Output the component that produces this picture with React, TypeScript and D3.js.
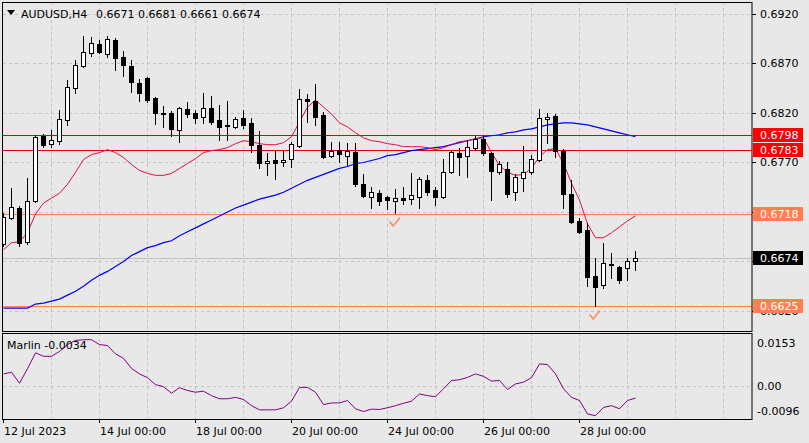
import * as d3 from 'd3';

// H4 bars, oldest first (12 Jul 2023 00:00 .. 31 Jul 04:00)
const opens = [
  0.6688, 0.6714, 0.6724, 0.6690, 0.6731, 0.6797, 0.6789, 0.6792, 0.6813, 0.6845,
  0.6867, 0.6881, 0.6890, 0.6880, 0.6894, 0.6877, 0.6867, 0.6850, 0.6855, 0.6835,
  0.6820, 0.6820, 0.6803, 0.6824, 0.6820, 0.6816, 0.6825, 0.6813, 0.6808, 0.6806,
  0.6815, 0.6810, 0.6788, 0.6769, 0.6773, 0.6770, 0.6774, 0.6787, 0.6834, 0.6832,
  0.6818, 0.6777, 0.6783, 0.6777, 0.6781, 0.6748, 0.6735, 0.6739, 0.6735, 0.6731,
  0.6734, 0.6733, 0.6735, 0.6752, 0.6742, 0.6735, 0.6760, 0.6780, 0.6777, 0.6785,
  0.6794, 0.6780, 0.6760, 0.6763, 0.6740, 0.6754, 0.6760, 0.6773, 0.6814, 0.6817,
  0.6782, 0.6738, 0.6711, 0.6702, 0.6655, 0.6646, 0.6667, 0.6664, 0.6663, 0.6671,
];
const highs = [
  0.6719, 0.6744, 0.6726, 0.6754, 0.6798, 0.6799, 0.6803, 0.6823, 0.6853, 0.6874,
  0.6898, 0.6897, 0.6894, 0.6898, 0.6896, 0.6883, 0.6874, 0.6854, 0.6856, 0.6836,
  0.6827, 0.6822, 0.6826, 0.6831, 0.6823, 0.6840, 0.6837, 0.6828, 0.6832, 0.6816,
  0.6823, 0.6815, 0.6802, 0.6780, 0.6782, 0.6782, 0.6791, 0.6844, 0.6839, 0.6849,
  0.6821, 0.6791, 0.6791, 0.6790, 0.6790, 0.6758, 0.6745, 0.6742, 0.6736, 0.6743,
  0.6745, 0.6759, 0.6755, 0.6757, 0.6745, 0.6774, 0.6782, 0.6785, 0.6793, 0.6797,
  0.6797, 0.6781, 0.6772, 0.6770, 0.6758, 0.6787, 0.6778, 0.6824, 0.6820, 0.6819,
  0.6784, 0.6752, 0.6714, 0.6709, 0.6674, 0.6689, 0.6679, 0.6665, 0.6674, 0.6681,
];
const lows = [
  0.6686, 0.6713, 0.6686, 0.6688, 0.6730, 0.6786, 0.6786, 0.6789, 0.6808, 0.6840,
  0.6866, 0.6878, 0.6881, 0.6877, 0.6863, 0.6857, 0.6841, 0.6832, 0.6831, 0.6809,
  0.6806, 0.6797, 0.6791, 0.6816, 0.6810, 0.6810, 0.6809, 0.6793, 0.6793, 0.6805,
  0.6805, 0.6781, 0.6764, 0.6757, 0.6753, 0.6766, 0.6765, 0.6786, 0.6811, 0.6808,
  0.6775, 0.6776, 0.6770, 0.6767, 0.6746, 0.6735, 0.6724, 0.6727, 0.6723, 0.6719,
  0.6728, 0.6728, 0.6724, 0.6737, 0.6727, 0.6734, 0.6759, 0.6757, 0.6755, 0.6783,
  0.6778, 0.6732, 0.6758, 0.6735, 0.6732, 0.6741, 0.6758, 0.6772, 0.6790, 0.6776,
  0.6724, 0.6709, 0.6699, 0.6645, 0.6625, 0.6643, 0.6653, 0.6648, 0.6651, 0.6661,
];
const closes = [
  0.6715, 0.6725, 0.6689, 0.6731, 0.6796, 0.6788, 0.6793, 0.6814, 0.6846, 0.6868,
  0.6882, 0.6891, 0.6882, 0.6895, 0.6876, 0.6868, 0.6851, 0.6840, 0.6833, 0.6820,
  0.6819, 0.6804, 0.6825, 0.6819, 0.6815, 0.6825, 0.6811, 0.6806, 0.6807, 0.6814,
  0.6808, 0.6788, 0.6769, 0.6772, 0.6769, 0.6773, 0.6789, 0.6834, 0.6832, 0.6816,
  0.6776, 0.6782, 0.6779, 0.6782, 0.6748, 0.6736, 0.6740, 0.6731, 0.6732, 0.6734,
  0.6732, 0.6737, 0.6753, 0.6740, 0.6735, 0.6760, 0.6781, 0.6776, 0.6786, 0.6794,
  0.6780, 0.6761, 0.6768, 0.6738, 0.6755, 0.6760, 0.6774, 0.6815, 0.6816, 0.6782,
  0.6738, 0.6710, 0.6700, 0.6654, 0.6644, 0.6668, 0.6666, 0.6651, 0.6670, 0.6674,
];

// moving averages
const fastMA = [
  0.6682, 0.6689, 0.6690, 0.6699, 0.6718, 0.6729, 0.6734, 0.6739, 0.6748, 0.6760,
  0.6773, 0.6778, 0.6780, 0.6783, 0.6780, 0.6775, 0.6768, 0.6762, 0.6759, 0.6757,
  0.6757, 0.6759, 0.6764, 0.6769, 0.6774, 0.6780, 0.6782, 0.6783, 0.6785, 0.6789,
  0.6792, 0.6791, 0.6789, 0.6788, 0.6788, 0.6790, 0.6796, 0.6811, 0.6826, 0.6833,
  0.6826, 0.6819, 0.6810, 0.6806, 0.6800, 0.6795, 0.6792, 0.6791, 0.6789, 0.6788,
  0.6786, 0.6786, 0.6786, 0.6785, 0.6783, 0.6785, 0.6788, 0.6791, 0.6792, 0.6794,
  0.6795, 0.6780, 0.6767, 0.6760, 0.6757, 0.6758, 0.6764, 0.6776, 0.6783, 0.6784,
  0.6769, 0.6749, 0.6732, 0.6708, 0.6694, 0.6694, 0.6699, 0.6705, 0.6711, 0.6716,
];
const slowMA = [
  0.6623, 0.6623, 0.6623, 0.6623, 0.6627, 0.6628, 0.6630, 0.6632, 0.6636, 0.6640,
  0.6645, 0.6651, 0.6656, 0.6660, 0.6665, 0.6670, 0.6676, 0.6680, 0.6684, 0.6686,
  0.6689, 0.6691, 0.6696, 0.6700, 0.6704, 0.6708, 0.6712, 0.6716, 0.6720, 0.6724,
  0.6727, 0.6730, 0.6733, 0.6735, 0.6737, 0.6740, 0.6744, 0.6748, 0.6752, 0.6755,
  0.6758, 0.6761, 0.6764, 0.6766, 0.6769, 0.6770, 0.6772, 0.6774, 0.6777, 0.6778,
  0.6780, 0.6782, 0.6783, 0.6784, 0.6785, 0.6786, 0.6788, 0.6790, 0.6792, 0.6794,
  0.6796, 0.6797, 0.6798, 0.6800, 0.6801, 0.6803, 0.6804, 0.6806, 0.6808, 0.6809,
  0.6810, 0.6810, 0.6809, 0.6808, 0.6806, 0.6804, 0.6802, 0.6800, 0.6798, 0.6796,
];
const marlin = [
  0.0036, 0.0041, 0.0009, 0.0051, 0.0097, 0.0087, 0.0087, 0.0101, 0.0121, 0.0133,
  0.0135, 0.0135, 0.0121, 0.0118, 0.0094, 0.0081, 0.0052, 0.0036, 0.0025, 0.0005,
  -0.0001, -0.0020, -0.0004, -0.0012, -0.0017, -0.0014, -0.0027, -0.0036, -0.0036, -0.0032,
  -0.0038, -0.0056, -0.0068, -0.0068, -0.0068, -0.0062, -0.0043, -0.0003, -0.0003, -0.0017,
  -0.0053, -0.0048, -0.0048, -0.0041, -0.0065, -0.0073, -0.0066, -0.0067, -0.0062, -0.0056,
  -0.0049, -0.0043, -0.0022, -0.0027, -0.0030, -0.0007, 0.0017, 0.0019, 0.0026, 0.0036,
  0.0029, 0.0015, 0.0017, -0.0009, 0.0007, 0.0012, 0.0025, 0.0065, 0.0063, 0.0036,
  -0.0007, -0.0032, -0.0041, -0.0080, -0.0085, -0.0061, -0.0056, -0.0065, -0.0041, -0.0034,
];

const timeLabels = ['12 Jul 2023', '14 Jul 00:00', '18 Jul 00:00', '20 Jul 00:00', '24 Jul 00:00', '26 Jul 00:00', '28 Jul 00:00'];
const timeLabelBars = [0, 12, 24, 36, 48, 60, 72];
const gridBars = d3.range(6, 91, 6);
const priceTicks = [0.6920, 0.6870, 0.6820, 0.6770, 0.6720, 0.6670, 0.6620];
const marlinTicks = [0.0153, 0, -0.0096];
const marlinTickLabels = ['0.0153', '0.00', '-0.0096'];
const redLevels = [0.6798, 0.6783];
const coralLevels = [0.6718, 0.6625];
const signalBars = [49, 74];

const FONT = '"DejaVu Sans", Tahoma, sans-serif';
const BG = '#e8e8e8';
const GRID = '#c4c4c4';
const CORAL = '#ff7f50';

const left = 3, right = 752;
const mainTop = 2, mainBottom = 331;
const subTop = 333, subBottom = 419;

export default function App() {
  const n = closes.length;
  const x = d3.scaleLinear().domain([0, n - 1]).range([3, 3 + 8 * (n - 1)]);
  const y = d3.scaleLinear().domain([0.6620, 0.6920]).range([311, 14]);
  const ym = d3.scaleLinear().domain([-0.0096, 0.0153]).range([419.5, 333.5]);
  const px = (v: number) => Math.round(v) + 0.5;

  const maLine = d3.line<number>()
    .x((_, i) => x(i) + 0.5)
    .y((d) => y(d));
  const marlinLine = d3.line<number>()
    .x((_, i) => x(i) + 0.5)
    .y((d) => ym(d));

  const last = n - 1;
  const header = [opens[last], highs[last], lows[last], closes[last]].map((v) => v.toFixed(4)).join(' ');

  // level boxes on the price scale; grid labels they fully cover are not drawn
  const boxed = [...redLevels, ...coralLevels, closes[last]];
  const hiddenTick = (t: number) => boxed.some((v) => Math.abs(y(v) - y(t)) < 3);

  const levelLabel = (v: number, fill: string, key: string) => {
    const cy = Math.round(y(v));
    return (
      <g key={key}>
        <rect x={753} y={cy - 7} width={50} height={14} fill={fill} />
        <text x={760} y={cy + 4} fill="#fff" fontSize={11} fontFamily={FONT}>{v.toFixed(4)}</text>
      </g>
    );
  };

  return (
    <div style={{ position: 'absolute', left: 0, top: 0 }}>
      <svg width={809} height={443} style={{ display: 'block' }}>
        <defs>
          <clipPath id="main-clip">
            <rect x={left} y={mainTop} width={right - left} height={mainBottom - mainTop} />
          </clipPath>
          <clipPath id="sub-clip">
            <rect x={left} y={subTop} width={right - left} height={subBottom - subTop} />
          </clipPath>
        </defs>
        <rect width={809} height={443} fill={BG} />

        {/* grid */}
        <g stroke={GRID} strokeDasharray="3,3" strokeWidth={1}>
          {gridBars.map((b) => (
            <g key={'vg' + b}>
              <line x1={px(x(b))} x2={px(x(b))} y1={mainTop} y2={mainBottom} />
              <line x1={px(x(b))} x2={px(x(b))} y1={subTop} y2={subBottom} />
            </g>
          ))}
          {priceTicks.map((t) => (
            <line key={'hg' + t} x1={left} x2={right} y1={px(y(t))} y2={px(y(t))} />
          ))}
          <line x1={left} x2={right} y1={px(ym(0))} y2={px(ym(0))} />
        </g>

        <g clipPath="url(#main-clip)">
          {/* current price line */}
          <line x1={left} x2={right} y1={px(y(closes[last]))} y2={px(y(closes[last]))} stroke="#c0c0c0" />
          {redLevels.map((v) => (
            <line key={'rl' + v} x1={left} x2={right} y1={px(y(v))} y2={px(y(v))} stroke="#e00000" />
          ))}
          {coralLevels.map((v) => (
            <line key={'cl' + v} x1={left} x2={right} y1={px(y(v))} y2={px(y(v))} stroke={CORAL} />
          ))}

          <path d={maLine(slowMA) || ''} fill="none" stroke="#0000ff" strokeWidth={1.2} />
          <path d={maLine(fastMA) || ''} fill="none" stroke="#e0103c" strokeWidth={1} />

          {closes.map((c, i) => {
            const o = opens[i];
            const cx = x(i);
            const top = Math.round(y(Math.max(o, c)));
            const bot = Math.round(y(Math.min(o, c)));
            const bull = c > o;
            return (
              <g key={'c' + i}>
                <line x1={cx + 0.5} x2={cx + 0.5} y1={Math.round(y(highs[i]))} y2={Math.round(y(lows[i])) + 1} stroke="#000" />
                {bot - top < 1 ? (
                  <line x1={cx - 2} x2={cx + 3} y1={top + 0.5} y2={top + 0.5} stroke="#000" />
                ) : (
                  <rect x={cx - 1.5} y={top + 0.5} width={4} height={bot - top} fill={bull ? '#fff' : '#000'} stroke="#000" />
                )}
              </g>
            );
          })}

          {signalBars.map((b) => {
            const cx = x(b);
            const ly = y(lows[b]);
            return (
              <path key={'s' + b}
                d={`M${cx - 5.5},${ly + 8.5} L${cx - 1.8},${ly + 13} L${cx + 5},${ly + 4.5}`}
                fill="none" stroke={CORAL} strokeWidth={1.7} strokeOpacity={0.85} strokeLinejoin="round" />
            );
          })}
        </g>

        <g clipPath="url(#sub-clip)">
          <path d={marlinLine(marlin) || ''} fill="none" stroke="#800080" strokeWidth={1} />
        </g>

        {/* panel borders */}
        <rect x={left - 0.5} y={mainTop + 0.5} width={right - left + 0.5} height={mainBottom - mainTop} fill="none" stroke="#000" />
        <rect x={left - 0.5} y={subTop + 0.5} width={right - left + 0.5} height={subBottom - subTop} fill="none" stroke="#000" />

        {/* header */}
        <path d="M7,10 L15,10 L11,15 Z" fill="#000" />
        <text x={21} y={18} fontSize={11} fontFamily={FONT} fill="#000">AUDUSD,H4</text>
        <text x={96} y={18} fontSize={11} fontFamily={FONT} fill="#000">{header}</text>
        <text x={7} y={349} fontSize={11} fontFamily={FONT} fill="#000">{`Marlin ${marlin[last].toFixed(4)}`}</text>

        {/* price axis */}
        {priceTicks.map((t) => (
          <g key={'pt' + t}>
            <line x1={right} x2={right + 4} y1={px(y(t))} y2={px(y(t))} stroke="#000" />
            {!hiddenTick(t) && (
              <text x={760} y={Math.round(y(t)) + 4} fontSize={11} fontFamily={FONT} fill="#000">{t.toFixed(4)}</text>
            )}
          </g>
        ))}
        {redLevels.map((v) => levelLabel(v, '#ff0000', 'rb' + v))}
        {coralLevels.map((v) => levelLabel(v, CORAL, 'cb' + v))}
        {levelLabel(closes[last], '#000', 'cur')}

        {/* marlin axis */}
        {marlinTicks.map((t, i) => {
          const ty = Math.min(Math.max(ym(t), subTop + 9.5), subBottom - 8);
          return (
            <text key={'mt' + t} x={757} y={Math.round(ty) + 4} fontSize={11} fontFamily={FONT} fill="#000">{marlinTickLabels[i]}</text>
          );
        })}

        {/* time axis */}
        {timeLabelBars.map((b, i) => (
          <g key={'tl' + b}>
            <line x1={px(x(b))} x2={px(x(b))} y1={subBottom} y2={subBottom + 4} stroke="#000" />
            <text x={x(b) + 1} y={435} fontSize={11} fontFamily={FONT} fill="#000">{timeLabels[i]}</text>
          </g>
        ))}
      </svg>
    </div>
  );
}
